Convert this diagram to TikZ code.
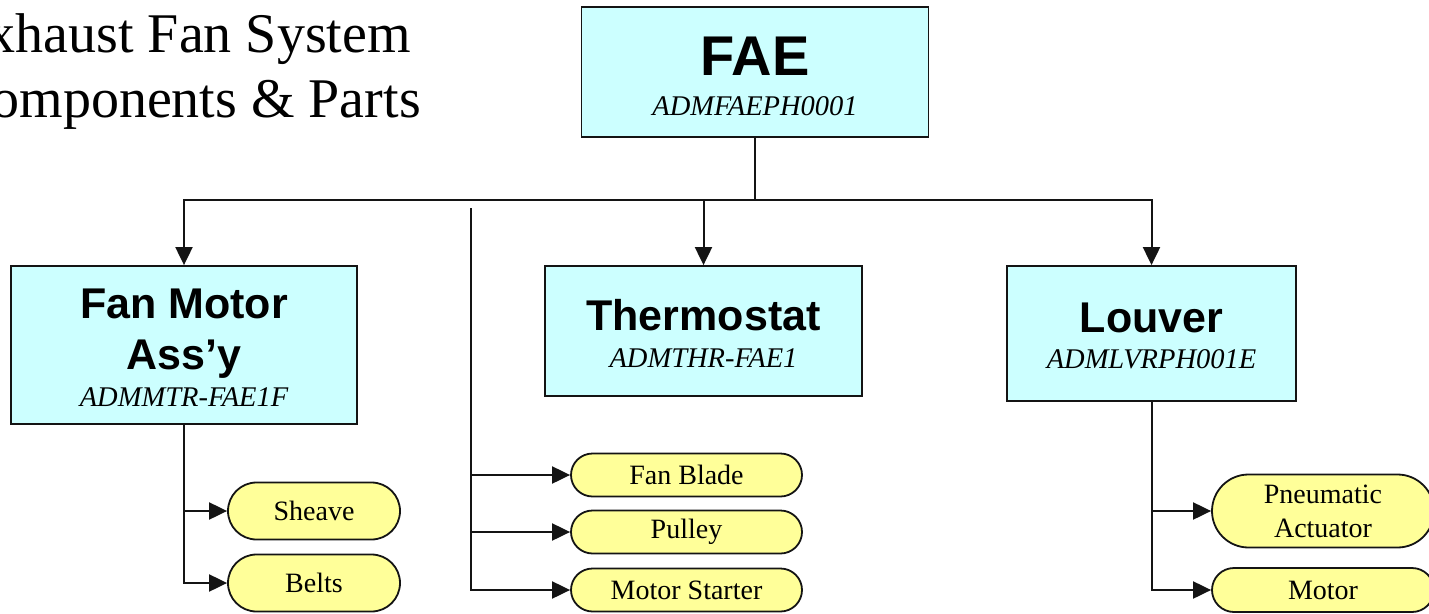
\documentclass[tikz,border=0pt]{standalone}
\usepackage{fontspec}
\setmainfont{Liberation Serif}
\newfontfamily\headfont{Liberation Sans}
\usetikzlibrary{arrows.meta,positioning,shapes.misc}
\definecolor{skyfill}{RGB}{204,255,255}
\definecolor{partfill}{RGB}{255,255,153}
\definecolor{ink}{RGB}{20,20,20}
\tikzset{
  >={Triangle[length=18pt,width=17pt]},
  box/.style={draw=ink,fill=skyfill,line width=1.8pt,inner sep=0pt},
  head/.style={anchor=base,inner sep=0pt,font=\headfont\bfseries\fontsize{43}{50}\selectfont},
  code/.style={anchor=base,inner sep=0pt,font=\itshape\fontsize{28.5}{34}\selectfont},
  part/.style={rounded rectangle,draw=ink,fill=partfill,line width=1.8pt,inner sep=0pt,
    align=center,font=\fontsize{28}{34}\selectfont},
  link/.style={->,line width=2pt,draw=ink},
  wire/.style={line width=2pt,draw=ink},
  heading/.style={anchor=base east,inner sep=0pt,font=\fontsize{56}{64}\selectfont},
}

\begin{document}
\begin{tikzpicture}[x=1pt,y=-1pt]
  \useasboundingbox (0,0) rectangle (1429,613);
  \clip (0,0) rectangle (1429,613);
  % title, cut at the left edge
  \node[heading] (title1) at (411,52) {Exhaust Fan System};
  \node[heading] (title2) at (421,117) {Components \& Parts};

  % main boxes
  \node[box,minimum width=347,minimum height=130] (fae) at (755,72) {};
  \node[head,font=\headfont\bfseries\fontsize{56}{60}\selectfont] (faeH) at (755,75) {FAE};
  \node[code] (faeC) at (755,115) {ADMFAEPH0001};

  \node[box,minimum width=346,minimum height=158] (fanmotor) at (184,345) {};
  \node[head] (fanmotorH1) at (184,318) {Fan Motor};
  \node[head] (fanmotorH2) at (184,369) {Ass’y};
  \node[code] (fanmotorC) at (184,406) {ADMMTR-FAE1F};

  \node[box,minimum width=317,minimum height=130] (thermo) at (703.5,331) {};
  \node[head] (thermoH) at (703.5,330) {Thermostat};
  \node[code] (thermoC) at (703.5,367) {ADMTHR-FAE1};

  \node[box,minimum width=289,minimum height=135] (louver) at (1151.5,333.5) {};
  \node[head] (louverH) at (1151.5,332) {Louver};
  \node[code] (louverC) at (1151.5,368) {ADMLVRPH001E};

  % parts
  \node[part,minimum width=172,minimum height=57] (sheave) at (314,511) {Sheave};
  \node[part,minimum width=172,minimum height=57] (belts) at (314,583) {Belts};
  \node[part,minimum width=231,minimum height=43] (blade) at (686.5,475) {Fan Blade};
  \node[part,minimum width=231,minimum height=43] (pulley) at (686.5,532) {Pulley};
  \node[part,minimum width=231,minimum height=43] (starter) at (686.5,590) {Motor Starter};
  \node[part,minimum width=222,minimum height=73] (actuator) at (1323,511) {Pneumatic\\Actuator};
  \node[part,minimum width=222,minimum height=44] (motor) at (1323,590) {Motor};

  % connectors
  \coordinate (bus) at (755,200);
  \coordinate (spine) at (471,208);
  \draw[wire] (fae.south) -- (bus);
  \draw[link] (bus) -| (fanmotor.north);
  \draw[link] (bus) -| (thermo.north);
  \draw[link] (bus) -| (louver.north);
  \draw[link] (fanmotor.south) |- (sheave.west);
  \draw[link] (fanmotor.south) |- (belts.west);
  \foreach \p in {blade,pulley,starter} \draw[link] (spine) |- (\p.west);
  \draw[link] (louver.south) |- (actuator.west);
  \draw[link] (louver.south) |- (motor.west);
\end{tikzpicture}
\end{document}
